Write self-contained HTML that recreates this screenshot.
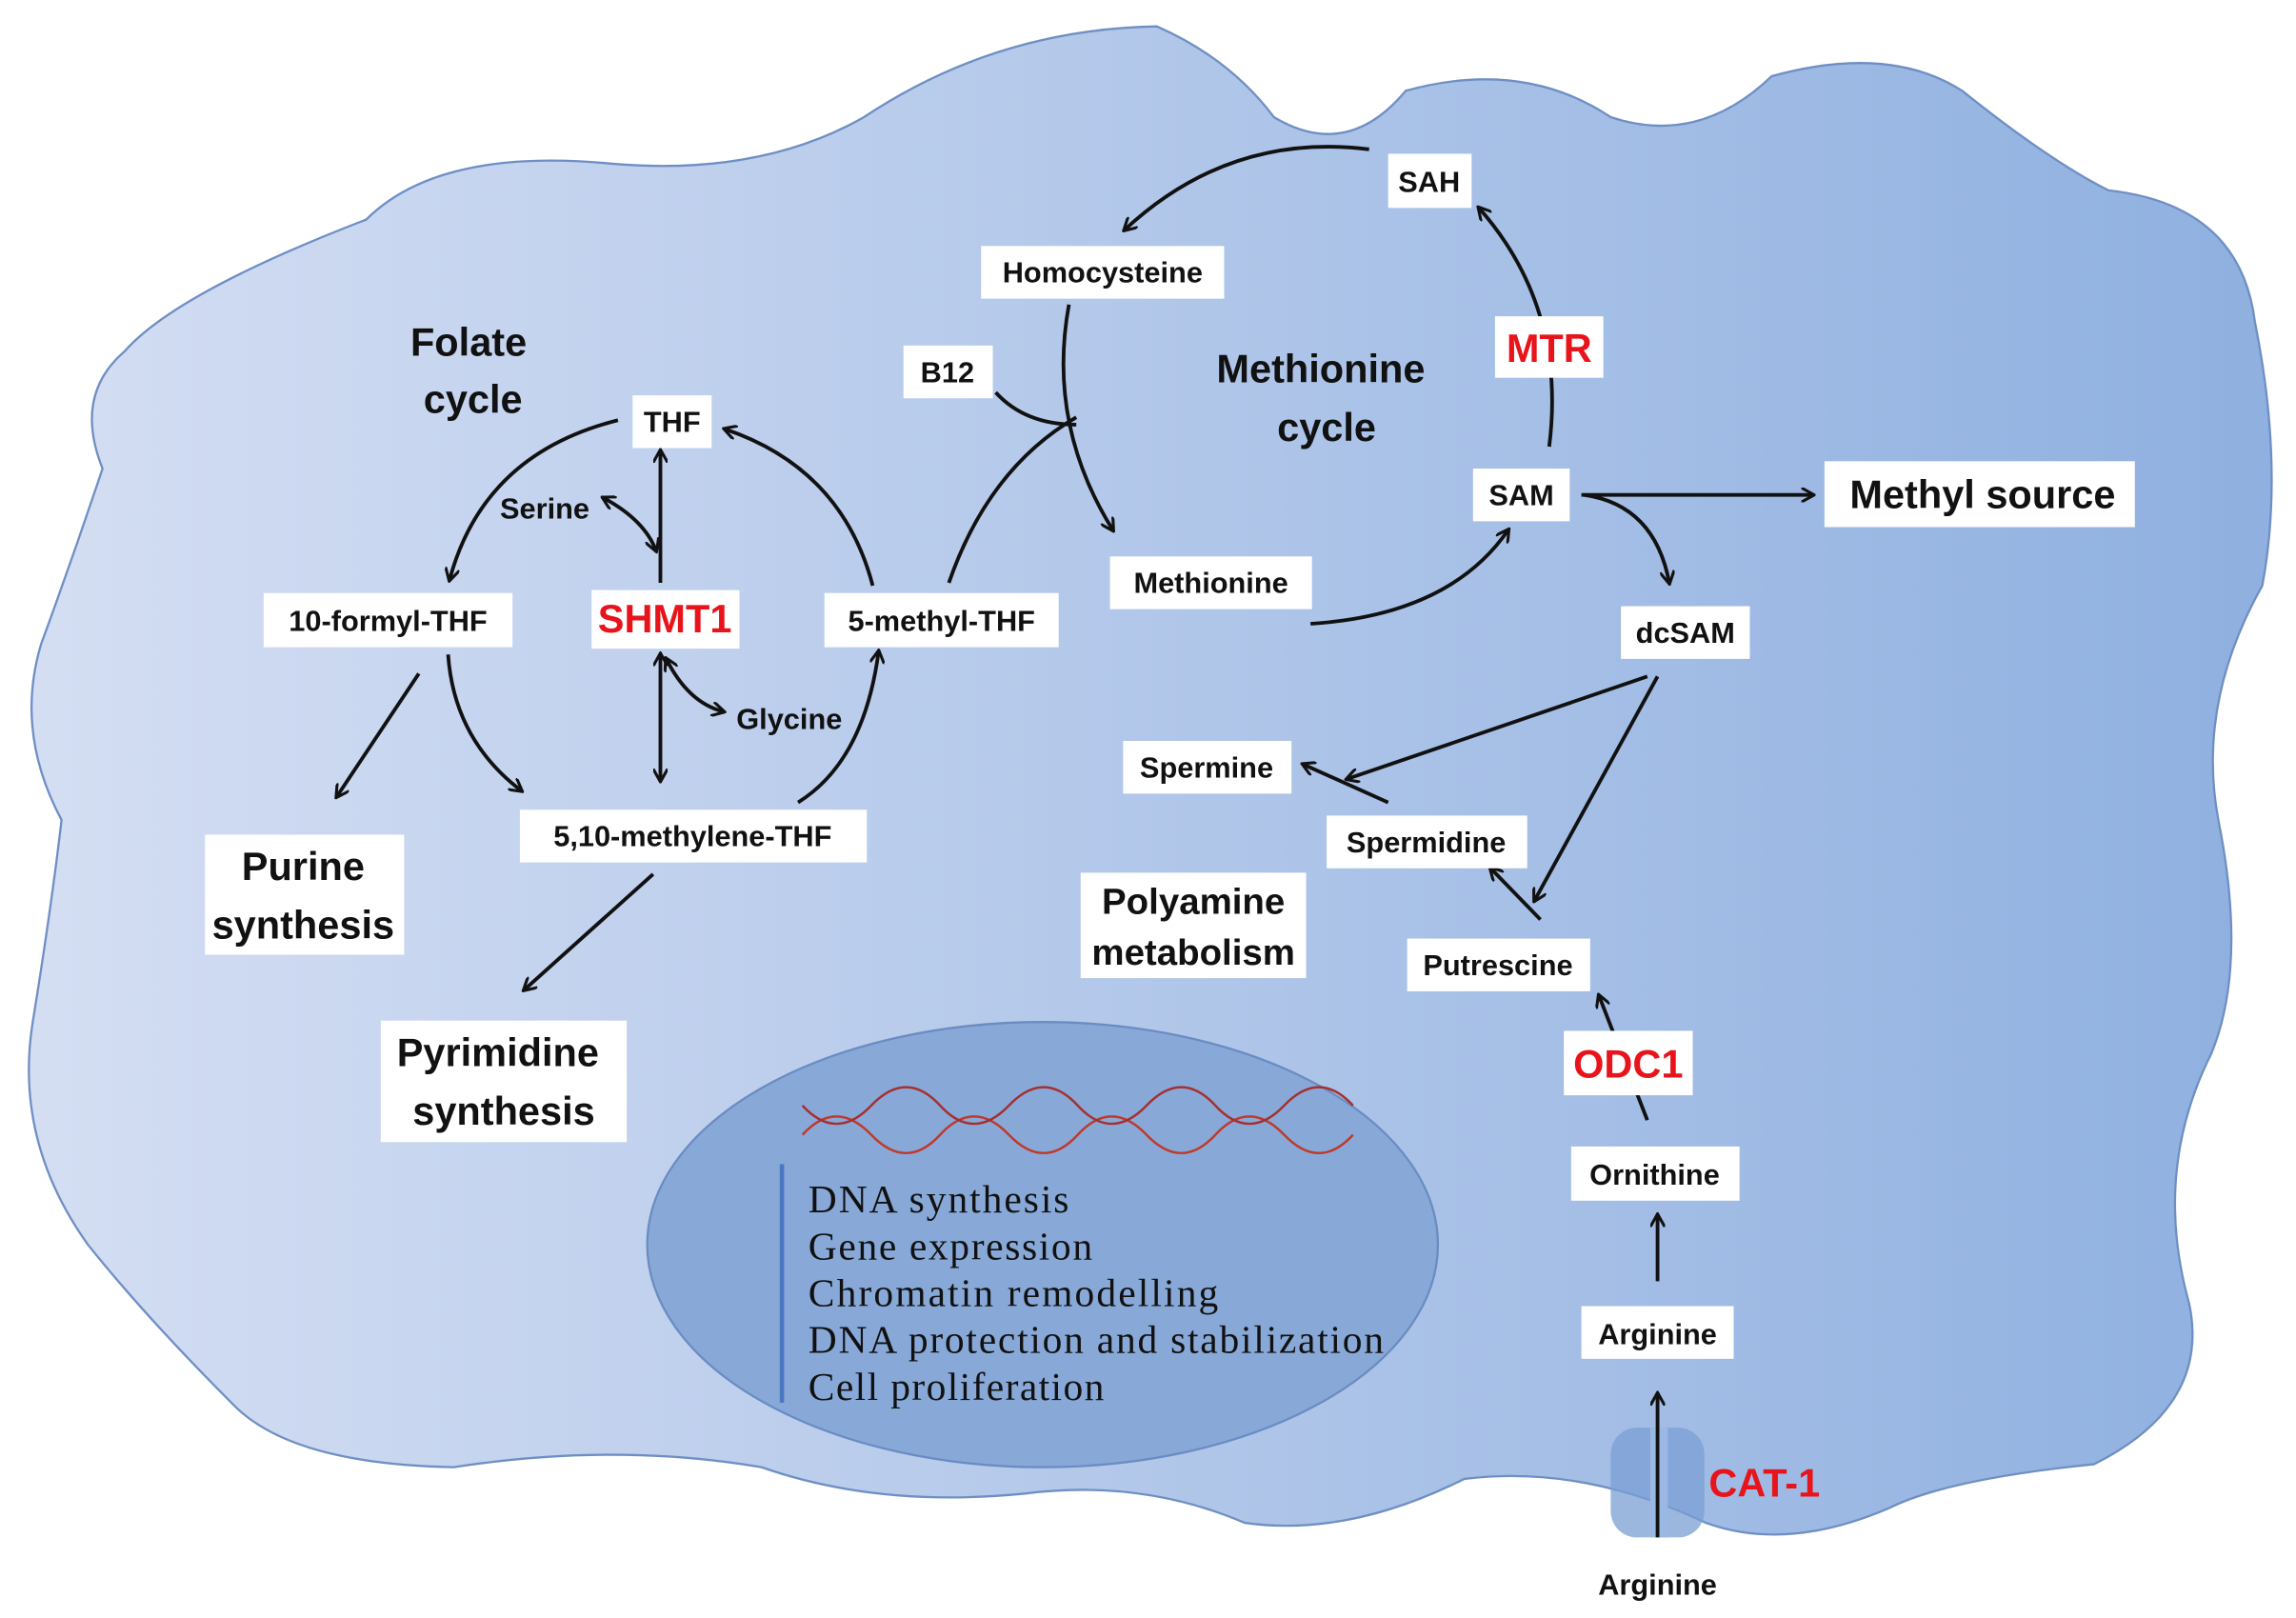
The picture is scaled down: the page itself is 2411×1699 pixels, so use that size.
<!DOCTYPE html>
<html><head><meta charset="utf-8"><style>
html,body{margin:0;padding:0;background:#fff;}
svg{display:block;}
text{font-family:"Liberation Sans",sans-serif;font-weight:bold;fill:#111;}
</style></head><body>
<svg width="2411" height="1699" viewBox="0 0 1568 1105" xmlns="http://www.w3.org/2000/svg">
<defs>
<linearGradient id="g" x1="0" y1="0" x2="1" y2="0">
<stop offset="0" stop-color="#d4def3"/><stop offset="1" stop-color="#8fb0e0"/>
</linearGradient>
<marker id="a" markerWidth="10" markerHeight="10" refX="8" refY="5" orient="auto" markerUnits="userSpaceOnUse">
<path d="M0,0 L9,5 L0,10" fill="none" stroke="#111" stroke-width="2"/>
</marker>
<marker id="b" markerWidth="10" markerHeight="10" refX="8" refY="5" orient="auto-start-reverse" markerUnits="userSpaceOnUse">
<path d="M0,0 L9,5 L0,10" fill="none" stroke="#111" stroke-width="2"/>
</marker>
</defs>
<path d="M85,240 Q120,200 250,150 Q300,100 420,112 Q520,120 590,80 Q680,20 790,18 Q840,40 870,80 Q920,110 960,62 Q1040,40 1100,80 Q1160,100 1210,52 Q1290,30 1340,62 Q1400,110 1440,130 Q1530,140 1540,220 Q1560,320 1545,400 Q1500,480 1515,560 Q1535,660 1510,720 Q1470,800 1495,890 Q1510,960 1430,1000 Q1330,1010 1290,1030 Q1220,1060 1165,1040 Q1080,1000 1000,1010 Q920,1050 850,1040 Q780,1010 700,1020 Q600,1030 520,1002 Q420,985 310,1002 Q200,1000 160,960 Q100,900 60,850 Q10,780 22,700 Q35,620 42,560 Q10,500 28,440 Q50,380 70,320 Q50,270 85,240 Z" fill="url(#g)" stroke="#6f8fc4" stroke-width="1.5"/>
<ellipse cx="712" cy="850" rx="270" ry="152" fill="#88a9d8" stroke="#6a8cc2" stroke-width="1.5"/>
<line x1="534" y1="795" x2="534" y2="958" stroke="#4a78c0" stroke-width="3"/>
<g fill="none" stroke="#c0392b" stroke-width="1.6">
<path d="M548,775 q23,-25 47,0 t47,0 t47,0 t47,0 t47,0 t47,0 t47,0 t47,0"/>
<path d="M548,755 q23,25 47,0 t47,0 t47,0 t47,0 t47,0 t47,0 t47,0 t47,0" stroke="#a53030"/>
</g>
<g font-size="27">
<text x="552" y="828" style="font-weight:normal;font-family:'Liberation Serif',serif" textLength="178">DNA synthesis</text>
<text x="552" y="860" style="font-weight:normal;font-family:'Liberation Serif',serif" textLength="194">Gene expression</text>
<text x="552" y="892" style="font-weight:normal;font-family:'Liberation Serif',serif" textLength="280">Chromatin remodelling</text>
<text x="552" y="924" style="font-weight:normal;font-family:'Liberation Serif',serif" textLength="393">DNA protection and stabilization</text>
<text x="552" y="956" style="font-weight:normal;font-family:'Liberation Serif',serif" textLength="202">Cell proliferation</text>
</g>
<g>
<rect x="1100" y="975" width="64" height="75" rx="18" fill="#7b9fd3" opacity="0.75"/>
<rect x="1127" y="975" width="12" height="75" fill="#9bb8e4"/>
</g>
<!-- arrows -->
<g fill="none" stroke="#111" stroke-width="2.5" marker-end="url(#a)">
<path d="M935,102 Q840,90 768,157"/>
<path d="M1058,305 Q1070,210 1010,142"/>
<path d="M730,208 Q715,290 760,362"/>
<path d="M680,268 Q700,290 735,290" marker-end="none"/>
<path d="M648,398 Q675,320 735,285" marker-end="none"/>
<path d="M895,426 Q990,420 1030,362"/>
<path d="M1080,338 L1238,338"/>
<path d="M1082,338 Q1130,345 1140,398"/>
<path d="M1125,462 L920,532"/>
<path d="M1132,462 L1048,615"/>
<path d="M948,548 L890,522"/>
<path d="M1052,628 L1018,593"/>
<path d="M1125,765 L1092,680"/>
<path d="M1132,875 L1132,830"/>
<path d="M1132,1050 L1132,952"/>
<path d="M422,287 Q330,310 307,396"/>
<path d="M596,400 Q575,320 495,293"/>
<path d="M451,398 L451,308"/>
<path d="M448,376 Q440,355 412,340" marker-start="url(#b)"/>
<path d="M451,447 L451,533" marker-start="url(#b)"/>
<path d="M455,450 Q470,480 494,486" marker-start="url(#b)"/>
<path d="M545,548 Q590,520 600,445"/>
<path d="M306,447 Q310,505 356,540"/>
<path d="M286,460 L230,544"/>
<path d="M446,597 L358,676"/>
</g>
<!-- boxes -->
<g fill="#fff">
<rect x="948" y="105" width="57" height="37"/>
<rect x="670" y="168" width="166" height="36"/>
<rect x="617" y="236" width="61" height="36"/>
<rect x="432" y="270" width="54" height="36"/>
<rect x="180" y="405" width="170" height="37"/>
<rect x="404" y="403" width="101" height="40"/>
<rect x="563" y="405" width="160" height="37"/>
<rect x="758" y="380" width="138" height="36"/>
<rect x="1006" y="320" width="66" height="36"/>
<rect x="1021" y="216" width="74" height="42"/>
<rect x="1246" y="315" width="212" height="45"/>
<rect x="1107" y="414" width="88" height="36"/>
<rect x="767" y="506" width="115" height="36"/>
<rect x="906" y="557" width="137" height="36"/>
<rect x="961" y="641" width="125" height="36"/>
<rect x="738" y="596" width="154" height="72"/>
<rect x="1068" y="704" width="88" height="44"/>
<rect x="1073" y="783" width="115" height="37"/>
<rect x="1080" y="892" width="104" height="36"/>
<rect x="355" y="553" width="237" height="36"/>
<rect x="140" y="570" width="136" height="82"/>
<rect x="260" y="697" width="168" height="83"/>
</g>
<g font-size="20" text-anchor="middle">
<text x="976" y="131">SAH</text>
<text x="753" y="193">Homocysteine</text>
<text x="647" y="261">B12</text>
<text x="459" y="295">THF</text>
<text x="372" y="354">Serine</text>
<text x="265" y="431">10-formyl-THF</text>
<text x="643" y="431">5-methyl-THF</text>
<text x="827" y="405">Methionine</text>
<text x="1039" y="345">SAM</text>
<text x="1151" y="439">dcSAM</text>
<text x="824" y="531">Spermine</text>
<text x="974" y="582">Spermidine</text>
<text x="1023" y="666">Putrescine</text>
<text x="1130" y="809">Ornithine</text>
<text x="1132" y="918">Arginine</text>
<text x="1132" y="1089">Arginine</text>
<text x="539" y="498">Glycine</text>
<text x="473" y="578">5,10-methylene-THF</text>
</g>
<g font-size="25" text-anchor="middle">
<text x="815" y="624">Polyamine</text>
<text x="815" y="659">metabolism</text>
</g>
<g font-size="27" text-anchor="middle">
<text x="320" y="243">Folate</text>
<text x="323" y="282">cycle</text>
<text x="902" y="261">Methionine</text>
<text x="906" y="301">cycle</text>
<text x="1354" y="347">Methyl source</text>
<text x="207" y="601">Purine</text>
<text x="207" y="641">synthesis</text>
<text x="340" y="728">Pyrimidine</text>
<text x="344" y="768">synthesis</text>
</g>
<g font-size="27" text-anchor="middle">
<text x="454" y="432" style="fill:#e8141b">SHMT1</text>
<text x="1058" y="247" style="fill:#e8141b">MTR</text>
<text x="1112" y="736" style="fill:#e8141b">ODC1</text>
<text x="1205" y="1022" style="fill:#e8141b">CAT-1</text>
</g>
</svg>
</body></html>
